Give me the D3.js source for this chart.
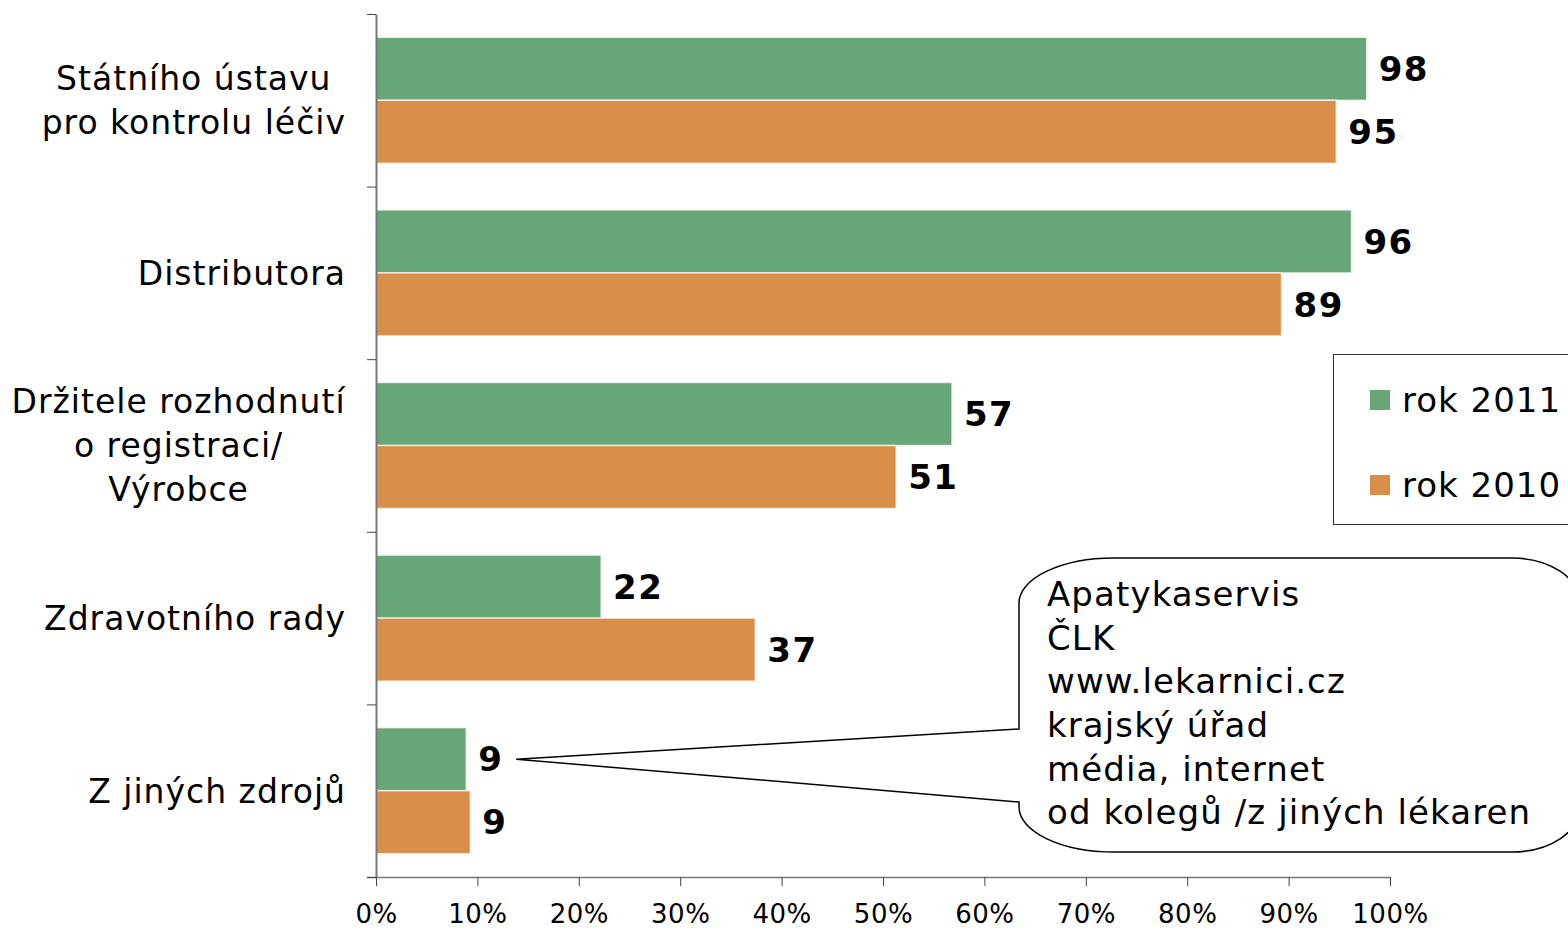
<!DOCTYPE html>
<html>
<head>
<meta charset="utf-8">
<script src="https://cdn.jsdelivr.net/npm/d3@7"></script>
<style>
  body { margin: 0; background: #fff; }
  text { font-family: "DejaVu Sans", Verdana, sans-serif; fill: #000; }
</style>
</head>
<body>
<script>
(function(){
    "use strict";

    // data
    const categories = [
        ["Státního ústavu", "pro kontrolu léčiv"],
        ["Distributora"],
        ["Držitele rozhodnutí", "o registraci/", "Výrobce"],
        ["Zdravotního rady"],
        ["Z jiných zdrojů"]
    ];
    const seriesNames = ["rok 2011", "rok 2010"];
    const values2011 = [97.7, 96.2, 56.8, 22.2, 8.9];
    const values2010 = [94.7, 89.3, 51.3, 37.4, 9.3];
    const xTicks = [0, 10, 20, 30, 40, 50, 60, 70, 80, 90, 100];
    const calloutLines = ["Apatykaservis", "ČLK", "www.lekarnici.cz", "krajský úřad", "média, internet", "od kolegů /z jiných lékaren"];

    const colors = {"rok 2011": "#67a676", "rok 2010": "#d98e4a"};
    const width = 1568, height = 930;

    let svg = d3.select("body").append("svg")
        .attr("width", width)
        .attr("height", height);

    let xScale = d3.scaleLinear().domain([0, 100]).range([376, 1390]);
    let yScale = d3.scaleBand()
        .domain(d3.range(categories.length))
        .range([14, 877])
        .paddingInner(0.27)
        .paddingOuter(0.135);
    let ySub = d3.scaleBand().domain(seriesNames).range([0, yScale.bandwidth()]);
    let yEdge = d3.scaleLinear().domain([0, categories.length]).range([14, 877]);

    let rows = categories.map((c, i) => ({i: i, vals: [
        {name: "rok 2011", v: values2011[i]},
        {name: "rok 2010", v: values2010[i]}
    ]}));

    // bars
    let groups = svg.selectAll(".grp").data(rows).enter().append("g")
        .attr("transform", d => "translate(0," + yScale(d.i) + ")");
    groups.selectAll("rect").data(d => d.vals).enter().append("rect")
        .attr("x", xScale(0))
        .attr("y", d => ySub(d.name))
        .attr("width", d => xScale(d.v) - xScale(0))
        .attr("height", ySub.bandwidth())
        .attr("fill", d => colors[d.name])
        .attr("stroke", "#fff")
        .attr("stroke-opacity", 0.7)
        .attr("stroke-width", 1.5);
    groups.selectAll(".val").data(d => d.vals).enter().append("text")
        .attr("x", d => xScale(d.v) + 12)
        .attr("y", d => ySub(d.name) + ySub.bandwidth() / 2)
        .attr("dy", "0.36em")
        .style("font-size", "34px")
        .style("font-weight", "bold")
        .style("letter-spacing", "1.5px")
        .text(d => d3.format(".0f")(d.v));

    // axes
    let xAxis = d3.axisBottom(xScale).tickValues(xTicks).tickSize(9).tickPadding(19)
        .tickFormat(d => d + "%");
    let gx = svg.append("g").attr("transform", "translate(0,877)").call(xAxis);
    gx.select(".domain").attr("stroke", "#777").attr("stroke-width", 1.5)
        .attr("d", "M367,0.5H" + xScale(100));
    gx.selectAll(".tick line").attr("stroke", "#444");
    gx.selectAll("text").style("font-size", "26px").style("letter-spacing", "0.5px").attr("fill", "#000");

    let yAxis = d3.axisLeft(yEdge).tickValues(d3.range(categories.length + 1))
        .tickSize(9).tickSizeOuter(0).tickFormat("");
    let gy = svg.append("g").attr("transform", "translate(376,0)").call(yAxis);
    gy.select(".domain").attr("stroke", "#777").attr("stroke-width", 2);
    gy.selectAll(".tick line").attr("stroke", "#444");

    // category labels, centred block with right edge at 346
    rows.forEach(r => {
        let lines = categories[r.i];
        let lh = 44;
        let cy = yScale(r.i) + yScale.bandwidth() / 2;
        let t = svg.append("text").style("font-size", "33px").style("letter-spacing", "1px")
            .attr("text-anchor", "middle");
        lines.forEach((ln, k) => {
            t.append("tspan").attr("y", cy + (k - (lines.length - 1) / 2) * lh).attr("dy", "0.36em").text(ln);
        });
        let maxW = d3.max(t.selectAll("tspan").nodes(), n => n.getBBox().width);
        t.selectAll("tspan").attr("x", 346 - maxW / 2);
    });

    // legend
    svg.append("rect").attr("x", 1333.5).attr("y", 354.5).attr("width", 300).attr("height", 170)
        .attr("fill", "#fff").attr("stroke", "#333").attr("stroke-width", 1);
    seriesNames.forEach((s, k) => {
        let ly = 400 + k * 85;
        svg.append("rect").attr("x", 1370).attr("y", ly - 10).attr("width", 20).attr("height", 20)
            .attr("fill", colors[s]);
        svg.append("text").attr("x", 1402).attr("y", ly).attr("dy", "0.36em")
            .style("font-size", "34px").style("letter-spacing", "1px").text(s);
    });

    // callout bubble pointing at the last category
    let tipY = yScale(4) + ySub("rok 2011") + ySub.bandwidth() / 2;
    let tipX = xScale(values2011[4]) + 50;
    let bubble = "M1019,729 L1019,603 A95,45 0 0 1 1114,558 L1512,558 A68,45 0 0 1 1580,603"
        + " L1580,807 A68,45 0 0 1 1512,852 L1114,852 A95,45 0 0 1 1019,807 L1019,802"
        + " L" + tipX + "," + tipY + " Z";
    svg.append("path").attr("d", bubble).attr("fill", "#fff").attr("stroke", "#000").attr("stroke-width", 1.5);
    let ct = svg.append("text").style("font-size", "34px").style("letter-spacing", "1.1px");
    calloutLines.forEach((ln, k) => {
        ct.append("tspan").attr("x", 1047).attr("y", 594 + k * 43.6).attr("dy", "0.36em").text(ln);
    });
})()
</script>
</body>
</html>
